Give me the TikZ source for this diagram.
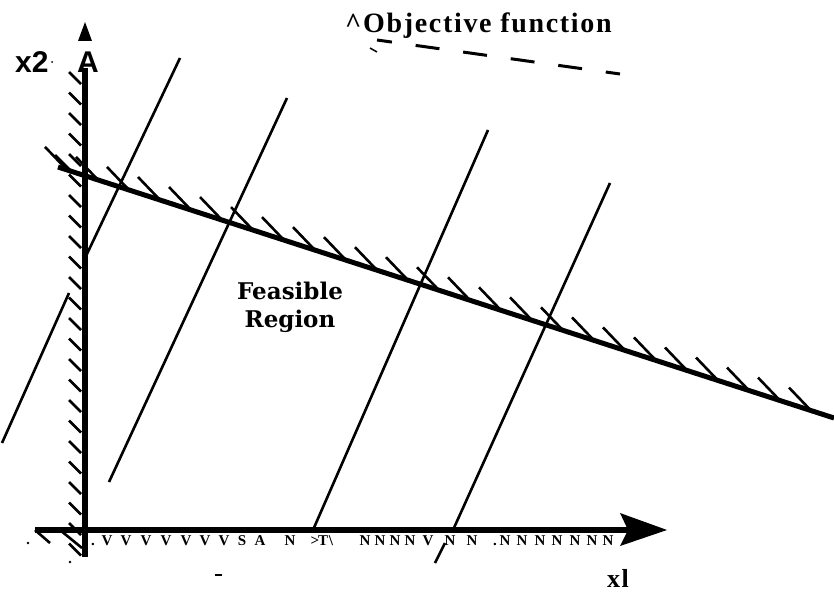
\documentclass[tikz,border=0pt]{standalone}
\usepackage{fontspec}
\setmainfont{Liberation Serif}
\newfontfamily\objfont[LetterSpace=6]{Liberation Serif Bold}
\newfontfamily\cellfont{Liberation Serif Bold}
\newfontfamily\axfont{Liberation Sans Bold}
\newfontfamily\regfont{DejaVu Serif Bold}
\begin{document}
\begin{tikzpicture}[x=1pt,y=-1pt,
  axisline/.style={line width=6.5pt},
  conline/.style={line width=5pt},
  objline/.style={line width=2.6pt},
  hatchline/.style={line width=2.6pt},
  lbl/.style={inner sep=0pt, anchor=base west},
  cell/.style={inner sep=0pt, anchor=base, font=\cellfont\fontsize{15}{15}\selectfont},
]
\useasboundingbox[fill=white] (0,0) rectangle (834,594);

% named points
\coordinate (yb) at (85,557);
\coordinate (yt) at (85,68);
\coordinate (xl0) at (35,530);
\coordinate (xr) at (630,530);
\coordinate (c0) at (58,167);
\coordinate (c1) at (834,418);

% constraint line and its hatching
\draw[conline] (c0) -- (c1);
\foreach \k in {0,...,24}{
  \pgfmathsetmacro\xe{67+31*\k}
  \pgfmathsetmacro\ye{167+(\xe-58)*0.3235}
  \draw[hatchline] (\xe-22,\ye-23) -- (\xe+1,\ye+1);
}
\draw[hatchline] (55,155) -- (72,172);

% y-axis hatching
\foreach \k in {0,...,23}{
  \pgfmathsetmacro\yy{72+20.5*\k}
  \draw[hatchline] (69,\yy) -- (81,\yy+12);
}
% hatching at the origin
\draw[hatchline] (35,530) -- (50,543);
\draw[hatchline] (60,530) -- (82,548);

% objective function lines
\draw[objline] (180,58) -- (86,256);
\draw[objline] (69,293) -- (2,443);
\draw[objline] (287,98) -- (109,482);
\draw[objline] (488,130) -- (313,530);
\draw[objline] (610,183) -- (453,530);
\draw[objline] (445,543) -- (435,563);

% axes
\draw[axisline] (yb) -- (yt);
\fill (78,41) -- (85,22) -- (92,41) -- cycle;
\draw[axisline] (xl0) -- (xr);
\fill (620,513) -- (667,530) -- (620,546) -- (628,530) -- cycle;

% dashed objective direction
\draw[line width=3pt, dash pattern=on 24pt off 24pt, dash phase=9pt] (377,40) -- (620,74);
\draw[line width=1.5pt] (370,48) -- (377,52);

% labels
\node[lbl, font=\axfont\fontsize{30}{30}\selectfont] (x2) at (15,72) {x2};
\node[lbl, font=\axfont\fontsize{30}{30}\selectfont] (A) at (77,72) {A};
\fill (52,62) circle (1pt);
\node[lbl, font=\objfont\fontsize{28}{28}\selectfont] (obj) at (345,33) {\^{}Objective function};
\node[lbl, font=\objfont\fontsize{26}{26}\selectfont] (x1) at (607,587) {xl};
\node[inner sep=0pt, anchor=base, align=center, font=\regfont\fontsize{23}{28}\selectfont] (fr) at (290,327) {Feasible\\Region};

% text along the x-axis
\foreach \x/\c in {107/V,126/V,146/V,166/V,186/V,205/V,224/V,242/S,260/A,290/N,315/>,323/T,365/N,380/N,395/N,410/N,428/V,450/N,472/N,505/N,522/N,540/N,557/N,575/N,592/N,608/N}{
  \node[cell] (b\x) at (\x,545) {\c};
}
\node[cell] (bs) at (331,545) {\textbackslash};
\node[cell] (bd) at (495,545) {.};
\node[cell] (bd0) at (93,545) {.};

% specks
\fill (28,543) circle (1.3pt);
\fill (70,562) circle (1.3pt);
\draw[line width=1.5pt] (215,575) -- (222,575);
\end{tikzpicture}
\end{document}
